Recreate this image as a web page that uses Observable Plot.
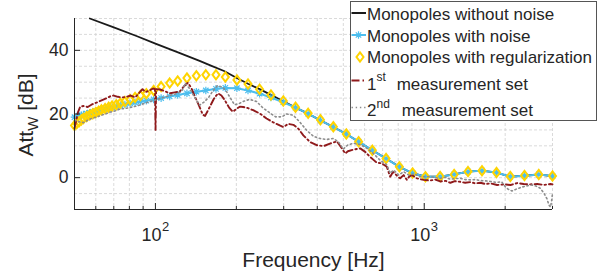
<!DOCTYPE html>
<html><head><meta charset="utf-8">
<script src="https://cdn.jsdelivr.net/npm/d3@7"></script>
<script src="https://cdn.jsdelivr.net/npm/@observablehq/plot@0.6"></script>
<style>
html,body{margin:0;padding:0;background:#fff;}
#chart{width:608px;height:278px;}
</style></head><body><div id="chart"></div>
<script>
// ---- data ----
const modelFreq = [50, 51, 52, 53, 54, 55.5, 57, 58.5, 60, 61.5, 63, 65, 67, 69, 71.5, 74, 77, 80.5, 84, 88,
  92.5, 98.5, 105, 113, 121, 131, 142, 154, 168, 182, 201, 221, 244, 269, 299, 332, 370, 411, 459, 513,
  570, 641, 721, 808, 905, 1010, 1146, 1292, 1455, 1640, 1857, 2090, 2360, 2667, 3000];
const noiseAtt = [19.0, 19.2, 19.4, 19.6, 19.8, 20.1, 20.4, 20.7, 20.9, 21.1, 21.4, 21.7, 21.9, 22.1, 22.4, 22.7, 23.0, 23.3, 23.6, 23.9,
  24.2, 24.6, 25.0, 25.5, 26.0, 26.5, 27.0, 27.4, 27.9, 28.2, 28.1, 27.4, 26.4, 25.2, 23.7, 22.0, 20.1, 18.0, 15.9, 13.7,
  11.3, 8.6, 6.0, 3.4, 1.4, 0.3, 0.3, 1.0, 1.9, 2.2, 1.6, 0.3, 0.6, 1.0, 0.5];
const regAtt = [16.4, 17.0, 17.6, 18.1, 18.6, 19.2, 19.7, 20.1, 20.5, 20.9, 21.3, 21.7, 22.1, 22.5, 22.9, 23.4, 23.9, 24.5, 25.2, 25.8,
  26.4, 27.4, 28.6, 29.7, 30.4, 31.3, 32.0, 32.3, 32.3, 31.6, 30.7, 29.4, 27.8, 26.0, 24.1, 22.1, 20.2, 18.2, 16.0, 13.7,
  11.3, 8.6, 6.0, 3.4, 1.5, 0.3, 0.4, 1.0, 1.9, 2.2, 1.6, 0.4, 0.7, 1.0, 0.5];
const cleanFreq = [57, 70, 85, 100, 120, 146, 160, 180, 200, 221, 244, 269, 299, 332, 370, 411, 459, 513, 570, 641,
  721, 808, 905, 1010, 1146, 1292, 1455, 1640, 1857, 2090, 2360, 2667, 3000];
const cleanAtt = [50.0, 47.2, 44.5, 42.1, 39.5, 36.7, 35.3, 33.5, 31.4, 29.5, 27.8, 26.0, 24.0, 22.0, 20.1, 18.0, 15.9, 13.7, 11.3, 8.6,
  6.0, 3.4, 1.4, 0.3, 0.3, 1.0, 1.9, 2.2, 1.6, 0.3, 0.6, 1.0, 0.5];
const meas1Freq = [50, 50.6, 51.5, 52.5, 54, 56, 58, 60, 62, 64, 66, 68, 70, 72.5, 75, 78, 81, 84, 87, 89.5,
  92, 95, 98, 99.6, 100.1, 100.6, 104, 108, 113, 118, 123, 128, 132, 136, 140, 145, 150, 153, 159, 165,
  171, 176, 181, 188, 194, 200, 206, 212, 218, 231, 245, 259, 274, 290, 299, 312, 326, 340, 355, 376,
  398, 422, 446, 473, 494, 508, 520, 545, 578, 603, 629, 666, 696, 726, 747, 765, 780, 800, 814, 838,
  862, 880, 900, 939, 970, 994, 1052, 1100, 1147, 1200, 1251, 1300, 1363, 1420, 1485, 1550, 1618, 1690, 1763, 1867,
  1977, 2094, 2217, 2344, 2485, 2632, 2786, 2951, 3000];
const meas1Att = [15.5, 17.5, 20.5, 22.3, 22.5, 22.2, 23.0, 23.5, 24.0, 24.5, 25.0, 25.6, 25.8, 25.4, 25.2, 25.4, 25.8, 25.2, 26.6, 27.8,
  26.9, 27.4, 28.0, 27.9, 15.0, 27.8, 27.7, 27.2, 26.5, 26.8, 27.0, 28.8, 29.8, 28.2, 25.6, 22.8, 19.8, 19.4, 22.1, 24.8,
  26.5, 25.8, 24.4, 22.0, 20.7, 21.6, 22.3, 22.2, 22.0, 21.2, 20.1, 18.6, 17.4, 16.4, 15.9, 16.9, 16.6, 15.4, 13.3, 11.2,
  10.2, 9.9, 10.7, 11.4, 9.2, 7.6, 8.3, 8.8, 9.2, 8.1, 6.5, 4.7, 4.5, 3.4, 0.3, 1.8, 1.2, 0.2, -0.2, 0.8,
  -0.7, 0.4, 0.8, -0.2, -0.5, -0.7, -0.9, -0.6, -1.2, -1.0, -1.6, -1.1, -1.3, -1.6, -1.4, -1.8, -1.6, -2.0, -1.8, -2.3,
  -2.1, -2.3, -1.7, -2.0, -2.1, -2.0, -2.3, -2.0, -2.1];
const meas2Freq = [50, 52, 54, 57, 60, 62, 65, 68, 71, 74, 78, 82, 86, 90, 94, 98, 102, 107, 113, 118,
  123, 126, 129, 134, 140, 146, 152, 158, 164, 170, 178, 184, 190, 197, 205, 213, 224, 238, 252, 267,
  280, 295, 308, 326, 345, 365, 387, 410, 434, 459, 480, 500, 520, 545, 578, 612, 647, 685, 726, 747,
  770, 804, 838, 876, 916, 966, 1052, 1100, 1147, 1200, 1251, 1300, 1363, 1420, 1485, 1550, 1618, 1690, 1763, 1860,
  1940, 2000, 2050, 2120, 2200, 2300, 2400, 2500, 2600, 2700, 2790, 2860, 2910, 2950, 2975, 3000];
const meas2Att = [18.0, 17.6, 17.3, 18.4, 19.0, 19.4, 20.0, 20.6, 21.0, 21.6, 21.8, 22.2, 22.6, 23.2, 23.7, 24.2, 24.6, 25.2, 25.8, 26.2,
  26.8, 27.5, 29.6, 28.0, 25.2, 22.8, 23.8, 25.3, 27.4, 28.9, 28.4, 27.0, 25.0, 22.9, 23.3, 24.0, 24.6, 23.9, 21.8, 20.3,
  19.1, 19.1, 20.0, 19.6, 17.4, 14.9, 13.0, 12.3, 12.0, 12.3, 11.2, 9.0, 10.3, 10.8, 10.4, 9.2, 7.6, 5.5, 4.0, 1.4,
  2.4, 0.8, 1.9, 0.8, 1.2, 0.3, 0.3, 0.0, -0.2, 0.1, -0.5, -0.3, -0.2, -0.6, -0.7, -0.6, -0.9, -1.0, -1.2, -1.5,
  -1.3, -2.8, -3.6, -4.2, -3.6, -3.0, -2.6, -2.3, -2.6, -3.3, -4.9, -6.6, -8.6, -9.2, -7.5, -5.0];
const xGrid = [60, 70, 80, 90, 100, 200, 300, 400, 500, 600, 700, 800, 900, 1000, 2000, 3000];
const yGrid = [-5, 0, 5, 10, 15, 20, 25, 30, 35, 40, 45, 50];
const xMajor = [100, 1000];
const xMinor = [60, 70, 80, 90, 200, 300, 400, 500, 600, 700, 800, 900, 2000, 3000];
const yTicks = [0, 20, 40];
const xLabel = "Frequency [Hz]";
const legendNames = ["Monopoles without noise", "Monopoles with noise", "Monopoles with regularization"];

// ---- build ----
const zip = (f, v) => f.map((x, i) => ({f: x, v: v[i]}));
const clean = zip(cleanFreq, cleanAtt);
const noisy = zip(modelFreq, noiseAtt);
const reg = zip(modelFreq, regAtt);
const m1 = zip(meas1Freq, meas1Att);
const m2 = zip(meas2Freq, meas2Att);

const BLUE = "#4dbeee", YELLOW = "#ffd400", RED = "#8f1a1c", GRAY = "#8c8c8c", BLACK = "#1a1a1a", AX = "#262626";
const FONT = "'Liberation Sans', Arial, Helvetica, sans-serif";
const W = 608, H = 278, ML = 74, MR = 56, MT = 18, MB = 69;
const fw = W - ML - MR, fh = H - MT - MB;

const diamond = {draw(ctx) { ctx.moveTo(0, -4.6); ctx.lineTo(3.5, 0); ctx.lineTo(0, 4.6); ctx.lineTo(-3.5, 0); ctx.closePath(); }};
const star = {draw(ctx) {
  const r = 3.8, s = 2.7;
  ctx.moveTo(-r, 0); ctx.lineTo(r, 0); ctx.moveTo(0, -r); ctx.lineTo(0, r);
  ctx.moveTo(-s, -s); ctx.lineTo(s, s); ctx.moveTo(-s, s); ctx.lineTo(s, -s);
}};

const chart = Plot.plot({
  width: W, height: H, marginLeft: ML, marginRight: MR, marginTop: MT, marginBottom: MB,
  x: {type: "log", domain: [50, 3000], axis: null},
  y: {domain: [-10, 50], axis: null},
  style: {fontFamily: FONT, background: "#fff", color: AX, overflow: "visible"},
  marks: [
    Plot.ruleX(xGrid, {x: d => d, stroke: "#d0d0d0", strokeDasharray: "3,2", strokeWidth: 0.8}),
    Plot.ruleY(yGrid, {y: d => d, stroke: "#d0d0d0", strokeDasharray: "3,2", strokeWidth: 0.8}),
    Plot.line(clean, {x: "f", y: "v", stroke: BLACK, strokeWidth: 1.8}),
    Plot.line(noisy, {x: "f", y: "v", stroke: BLUE, strokeWidth: 2}),
    Plot.dot(noisy, {x: "f", y: "v", symbol: star, stroke: BLUE, strokeWidth: 1.2, fill: "none"}),
    Plot.dot(reg, {x: "f", y: "v", symbol: diamond, stroke: YELLOW, strokeWidth: 2, fill: "none"}),
    Plot.line(m1, {x: "f", y: "v", stroke: RED, strokeWidth: 1.9, strokeDasharray: "7,3,1.5,3"}),
    Plot.line(m2, {x: "f", y: "v", stroke: GRAY, strokeWidth: 1.6, strokeDasharray: "1.4,2.8"}),
    Plot.ruleX([50], {x: d => d, stroke: AX, strokeWidth: 1}),
    Plot.ruleY([-10], {y: d => d, stroke: AX, strokeWidth: 1}),
    Plot.ruleX(xMajor, {x: d => d, insetTop: fh - 6, stroke: AX}),
    Plot.ruleX(xMinor, {x: d => d, insetTop: fh - 3, stroke: AX}),
    Plot.ruleY(yTicks, {y: d => d, insetRight: fw - 6, stroke: AX}),
    Plot.text(yTicks, {y: d => d, text: d => String(d), frameAnchor: "left", textAnchor: "end", dx: -6, fontSize: 17.5, fill: AX}),
    Plot.text(xMajor, {x: d => d, text: () => "10", frameAnchor: "bottom", lineAnchor: "bottom", dy: 31, dx: -4, fontSize: 18, fill: AX}),
    Plot.text(xMajor, {x: d => d, text: d => String(Math.round(Math.log10(d))), frameAnchor: "bottom", lineAnchor: "bottom", textAnchor: "start", dx: 6.5, dy: 21, fontSize: 13, fill: AX}),
    Plot.text([xLabel], {text: d => d, frameAnchor: "bottom", lineAnchor: "bottom", dy: 57.7, fontSize: 21, fill: AX})
  ]
});
document.getElementById("chart").appendChild(chart);

// ---- y label with subscript ----
const svg = d3.select(chart);
const yl = svg.append("text").attr("transform", "translate(33,115) rotate(-90)")
  .attr("text-anchor", "middle").attr("font-family", FONT).attr("font-size", 21).attr("fill", AX);
yl.append("tspan").text("Att");
yl.append("tspan").attr("font-size", 15).attr("dy", 5).text("W");
yl.append("tspan").attr("dy", -5).text(" [dB]");

// ---- legend ----
const lg = svg.append("g").attr("font-family", FONT).attr("font-size", 17).attr("fill", AX).attr("text-anchor", "start");
lg.append("rect").attr("x", 350.5).attr("y", 1.5).attr("width", 246).attr("height", 119)
  .attr("fill", "#fff").attr("stroke", "#555").attr("stroke-width", 1);
const sy = [13, 35, 57, 80.5, 107.5];
const by = [20, 41.5, 63, 89.5, 116];
lg.append("line").attr("x1", 351.5).attr("x2", 366).attr("y1", sy[0]).attr("y2", sy[0]).attr("stroke", BLACK).attr("stroke-width", 2);
lg.append("line").attr("x1", 351.5).attr("x2", 366).attr("y1", sy[1]).attr("y2", sy[1]).attr("stroke", BLUE).attr("stroke-width", 2);
lg.append("path").attr("transform", `translate(358.5,${sy[1]})`).attr("d", "M-3.8,0L3.8,0M0,-3.8L0,3.8M-2.7,-2.7L2.7,2.7M-2.7,2.7L2.7,-2.7").attr("stroke", BLUE).attr("stroke-width", 1.2).attr("fill", "none");
lg.append("path").attr("transform", `translate(360,${sy[2]})`).attr("d", "M0,-4.6L3.5,0L0,4.6L-3.5,0Z").attr("stroke", YELLOW).attr("stroke-width", 2).attr("fill", "none");
lg.append("line").attr("x1", 351.5).attr("x2", 366).attr("y1", sy[3]).attr("y2", sy[3]).attr("stroke", RED).attr("stroke-width", 1.9).attr("stroke-dasharray", "8,3,1.5,3");
lg.append("line").attr("x1", 351.5).attr("x2", 366).attr("y1", sy[4]).attr("y2", sy[4]).attr("stroke", GRAY).attr("stroke-width", 1.6).attr("stroke-dasharray", "1.4,2.8");
legendNames.forEach((t, i) => lg.append("text").attr("x", 367).attr("y", by[i]).attr("text-anchor", "start").text(t));
const t4 = lg.append("text").attr("x", 367).attr("y", by[3]).attr("text-anchor", "start");
t4.append("tspan").text("1");
t4.append("tspan").attr("font-size", 12).attr("dy", -9).text("st");
t4.append("tspan").attr("x", 396.7).attr("dy", 9).text("measurement set");
const t5 = lg.append("text").attr("x", 367).attr("y", by[4]).attr("text-anchor", "start");
t5.append("tspan").text("2");
t5.append("tspan").attr("font-size", 12).attr("dy", -8).text("nd");
t5.append("tspan").attr("x", 401.7).attr("dy", 8).text("measurement set");
</script>
</body></html>
